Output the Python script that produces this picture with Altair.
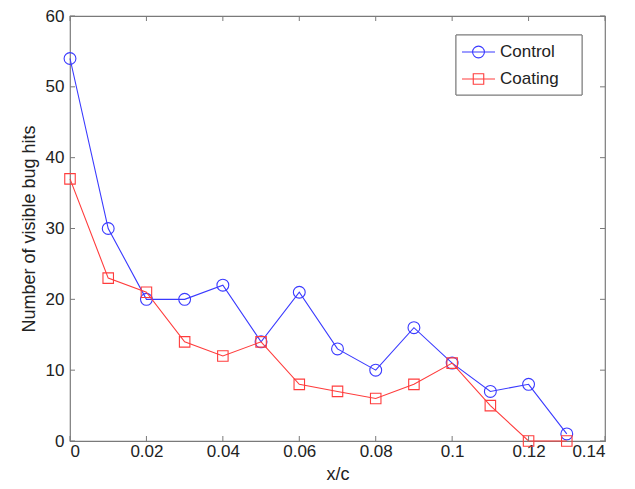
import altair as alt
import pandas as pd

x_vals = [0, 0.01, 0.02, 0.03, 0.04, 0.05, 0.06, 0.07, 0.08, 0.09, 0.10, 0.11, 0.12, 0.13]
control = [54, 30, 20, 20, 22, 14, 21, 13, 10, 16, 11, 7, 8, 1]
coating = [37, 23, 21, 14, 12, 14, 8, 7, 6, 8, 11, 5, 0, 0]
series_names = ["Control", "Coating"]
x_ticks = [0, 0.02, 0.04, 0.06, 0.08, 0.10, 0.12, 0.14]
y_ticks = [0, 10, 20, 30, 40, 50, 60]

BLUE = "#3a3aff"
RED = "#ff3c3c"
GRAY = "#7a7a7a"
FONT = "Liberation Sans"
W, H = 535, 425

df_ctrl = pd.DataFrame({"x": x_vals, "y": control})
df_coat = pd.DataFrame({"x": x_vals, "y": coating})

xs = alt.Scale(domain=[0, 0.14], nice=False)
ys = alt.Scale(domain=[0, 60], nice=False)

xax = alt.Axis(values=x_ticks, format="~g", ticks=False, grid=False, domain=False,
               labelFont=FONT, labelFontSize=17, labelColor="#222", labelPadding=2,
               title="x/c", titleFont=FONT, titleFontSize=18, titleFontWeight="normal",
               titleColor="#222", titlePadding=6)
yax = alt.Axis(values=y_ticks, ticks=False, grid=False, domain=False,
               labelFont=FONT, labelFontSize=17, labelColor="#222", labelPadding=6,
               title="Number of visible bug hits", titleFont=FONT, titleFontSize=18,
               titleFontWeight="normal", titleColor="#222", titlePadding=7)

def series(df, color, shape):
    base = alt.Chart(df)
    line = base.mark_line(color=color, strokeWidth=1.1).encode(
        x=alt.X("x:Q", scale=xs, axis=xax), y=alt.Y("y:Q", scale=ys, axis=yax))
    pts = base.mark_point(color=color, shape=shape, filled=False, size=140 if shape == "circle" else 110,
                          strokeWidth=1.1, opacity=1).encode(
        x=alt.X("x:Q", scale=xs), y=alt.Y("y:Q", scale=ys))
    return line + pts

xt = pd.DataFrame({"t": x_ticks})
yt = pd.DataFrame({"t": y_ticks})
tick_layers = [
    alt.Chart(xt).mark_rule(color=GRAY).encode(x=alt.X("t:Q", scale=xs), y=alt.value(H), y2=alt.value(H - 5)),
    alt.Chart(xt).mark_rule(color=GRAY).encode(x=alt.X("t:Q", scale=xs), y=alt.value(0), y2=alt.value(5)),
    alt.Chart(yt).mark_rule(color=GRAY).encode(y=alt.Y("t:Q", scale=ys), x=alt.value(0), x2=alt.value(5)),
    alt.Chart(yt).mark_rule(color=GRAY).encode(y=alt.Y("t:Q", scale=ys), x=alt.value(W - 5), x2=alt.value(W)),
]

# Legend (drawn manually, MATLAB style)
leg = pd.DataFrame({"name": series_names})
lx0, lx1, ly0, ly1 = 386, 512, 19, 79
rows = [36, 63]
legend_layers = [
    alt.Chart(leg).mark_rect(fill="white", stroke=GRAY, strokeWidth=1).encode(
        x=alt.value(lx0), x2=alt.value(lx1), y=alt.value(ly0), y2=alt.value(ly1)),
]
for i, (name, color, shape) in enumerate(zip(series_names, [BLUE, RED], ["circle", "square"])):
    d = pd.DataFrame({"name": [name]})
    legend_layers.append(alt.Chart(d).mark_rule(color=color, strokeWidth=1.1).encode(
        x=alt.value(392), x2=alt.value(425), y=alt.value(rows[i])))
    legend_layers.append(alt.Chart(d).mark_point(color=color, shape=shape, filled=False,
                                                 size=140 if shape == "circle" else 110, strokeWidth=1.1, opacity=1).encode(
        x=alt.value(408.5), y=alt.value(rows[i])))
    legend_layers.append(alt.Chart(d).mark_text(align="left", baseline="middle", font=FONT,
                                                fontSize=17, color="#222").encode(
        x=alt.value(430), y=alt.value(rows[i]), text="name:N"))

chart = alt.layer(
    series(df_ctrl, BLUE, "circle"),
    series(df_coat, RED, "square"),
    *tick_layers,
    *legend_layers,
).properties(
    width=W, height=H,
    autosize=alt.AutoSizeParams(type="none"),
    padding={"left": 62, "top": 8, "right": 14, "bottom": 48},
    background="white",
).configure_view(stroke=GRAY, strokeWidth=1.2)

chart.save("out.html", embed_options={"renderer": "svg", "actions": False})
